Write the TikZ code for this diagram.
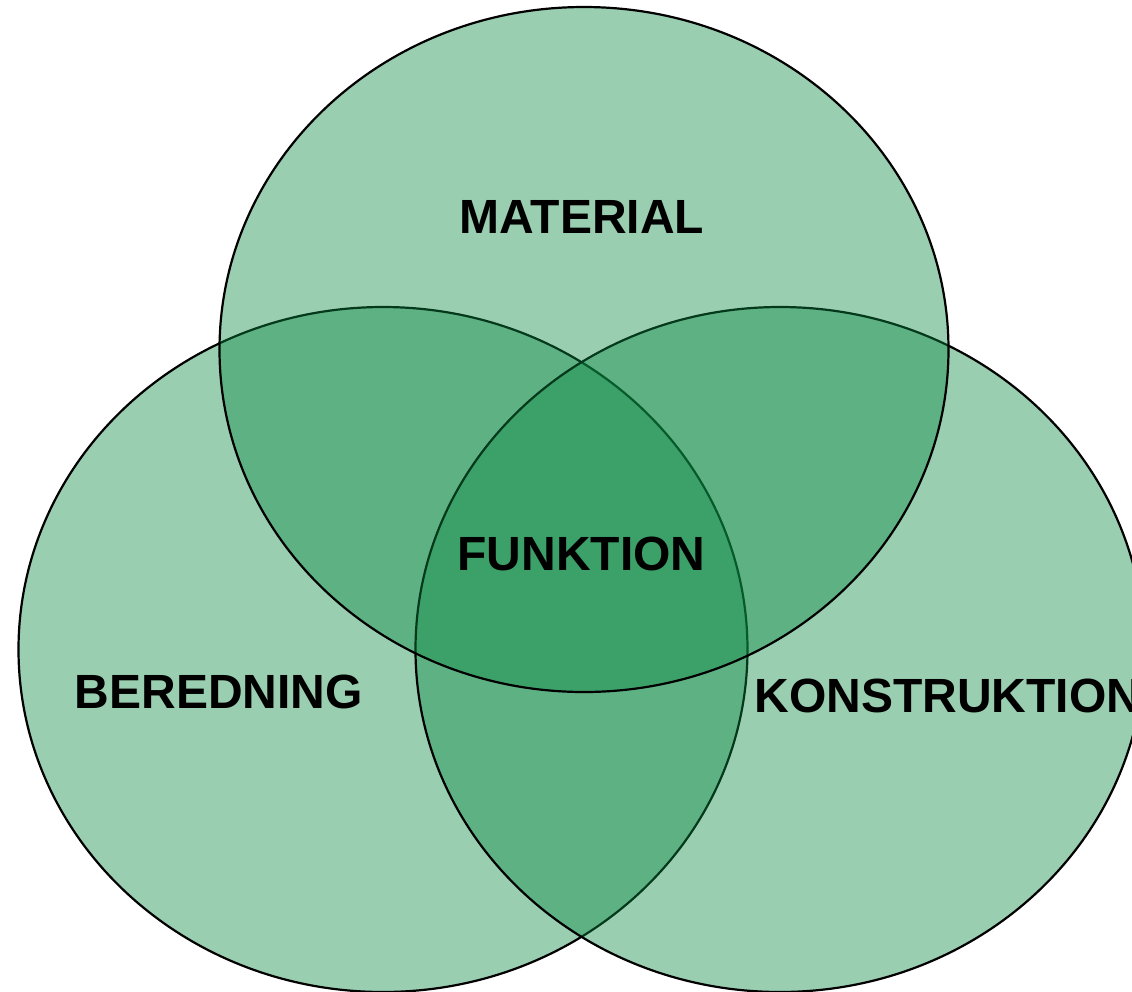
\documentclass[tikz,border=0pt]{standalone}
\usepackage{fontspec}
\setmainfont{Liberation Sans}
\usetikzlibrary{shapes.geometric, positioning}
\definecolor{venngreen}{RGB}{12,138,67}
\tikzset{
    ring/.style={ellipse, draw=black, line width=1.1pt, fill=venngreen, fill opacity=0.42,
      minimum width=364.5pt, minimum height=342.5pt, inner sep=0pt},
    tag/.style={inner sep=0pt, font=\fontsize{24}{28}\selectfont\bfseries},
}
\begin{document}
\begin{tikzpicture}[x=0.5pt, y=-0.5pt]
    \useasboundingbox (0,0) rectangle (1132,992);

    \node[ring] (beredning) at (383,649.5) {};
    \node[ring] (konstruktion) at (780,649.5) {};
    \node[ring] (material) at (584,349.5) {};

    \node[tag] (lmaterial) at (582,217) {MATERIAL};
    \node[tag] (lfunktion) at (581.5,553.5) {FUNKTION};
    \node[tag] (lberedning) at (219,691.5) {BEREDNING};
    \node[tag, anchor=west] (lkonstruktion) at (754,695.5) {KONSTRUKTION};
\end{tikzpicture}
\end{document}
